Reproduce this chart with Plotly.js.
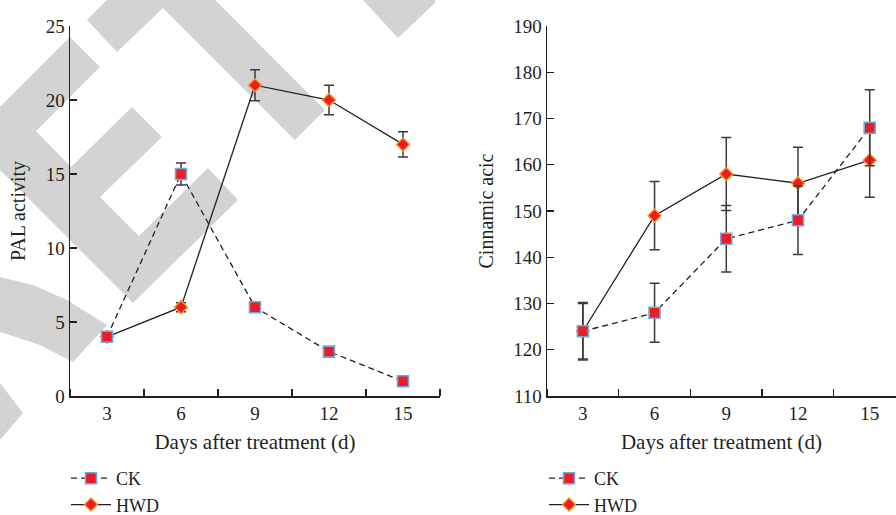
<!DOCTYPE html>
<html>
<head>
<meta charset="utf-8">
<script src="https://cdn.plot.ly/plotly-3.0.1.min.js"></script>
<style>html,body{margin:0;padding:0;background:#fff;}#chart{width:896px;height:515px;}</style>
</head>
<body>
<div id="chart"></div>
<script>
// ---- data ----
const days = [3, 6, 9, 12, 15];
const palCK = [4, 15, 6, 3, 1];
const palCKErr = [0.3, 0.75, 0.3, 0.2, 0.2];
const palHWD = [4, 6, 21, 20, 17];
const palHWDErr = [0.3, 0.3, 1.05, 1.0, 0.85];
const cinCK = [124, 128, 144, 148, 168];
const cinCKErr = [6.2, 6.4, 7.2, 7.4, 8.2];
const cinHWD = [124, 149, 158, 156, 161];
const cinHWDErr = [6.0, 7.4, 7.9, 7.8, 8.0];
const seriesNames = ['CK', 'HWD'];
const xTitle = 'Days after treatment (d)';
const yTitleLeft = 'PAL activity';
const yTitleRight = 'Cinnamic acic';

// ---- styling ----
const W = 896, H = 515;
const FONT = 'Liberation Serif, Times New Roman, serif';
const INK = '#231f20';
const RED = '#ed1c24';
const BLUE = '#6fa8dc';
const ORANGE = '#f7941d';
const ERRC = '#3a3a3a';

function ckTrace(y, err, xa, ya, lg) {
  return {x: days, y: y, xaxis: xa, yaxis: ya, name: seriesNames[0], legend: lg,
    mode: 'lines+markers', type: 'scatter',
    line: {color: INK, width: 1.3, dash: '6px,4px'},
    marker: {symbol: 'square', size: 11, color: RED, line: {color: BLUE, width: 1.6}},
    error_y: {type: 'data', array: err, visible: true, color: ERRC, thickness: 1.5, width: 5}};
}
function hwdTrace(y, err, xa, ya, lg) {
  return {x: days, y: y, xaxis: xa, yaxis: ya, name: seriesNames[1], legend: lg,
    mode: 'lines+markers', type: 'scatter',
    line: {color: INK, width: 1.3},
    marker: {symbol: 'diamond', size: 10, color: RED, line: {color: ORANGE, width: 1.4}},
    error_y: {type: 'data', array: err, visible: true, color: ERRC, thickness: 1.5, width: 5}};
}

const traces = [
  hwdTrace(palHWD, palHWDErr, 'x', 'y', 'legend'),
  ckTrace(palCK, palCKErr, 'x', 'y', 'legend'),
  hwdTrace(cinHWD, cinHWDErr, 'x2', 'y2', 'legend2'),
  ckTrace(cinCK, cinCKErr, 'x2', 'y2', 'legend2')
];
traces[0].legendrank = 2; traces[1].legendrank = 1;
traces[2].legendrank = 2; traces[3].legendrank = 1;

function xAxis(domain, range, anchor) {
  return {domain: domain, range: range, anchor: anchor, showgrid: false, zeroline: false,
    showline: true, linecolor: INK, linewidth: 1.5,
    tickmode: 'array', tickvals: days, ticktext: days.map(String), ticks: '',
    minor: {tick0: 4.5, dtick: 3, ticks: 'inside', ticklen: 7, tickwidth: 1.3, tickcolor: INK, showgrid: false},
    tickfont: {family: FONT, size: 19, color: INK},
    title: {text: xTitle, font: {family: FONT, size: 21, color: INK}, standoff: 11}};
}
function yAxis(domain, range, dtick, anchor, standoff) {
  return {domain: domain, range: range, anchor: anchor, showgrid: false, zeroline: false,
    showline: true, linecolor: INK, linewidth: 1.5,
    tick0: range[0], dtick: dtick, ticks: 'inside', ticklen: 7, tickwidth: 1.3, tickcolor: INK,
    tickfont: {family: FONT, size: 19, color: INK},
    title: {text: anchor === 'x' ? yTitleLeft : yTitleRight, font: {family: FONT, size: 20, color: INK}, standoff: standoff}};
}

const yDom = [1 - 396 / H, 1 - 26 / H];

// ---- watermark (decorative, pixel polygons) ----
const wm = [
  [[0,107],[70,37],[100,67],[36,131],[71,167],[132,107],[162,137],[100,197],[139,236],[208,168],[238,200],[133,303],[0,170]],
  [[0,277],[33,285],[67,300],[107,325],[73,362],[40,345],[0,332]],
  [[0,383],[23,413],[0,440]],
  [[87,20],[107,0],[215,0],[325,110],[295,140],[163,8],[117,52]],
  [[363,0],[435,0],[435,3],[398,38]]
];
function toPath(pts) {
  return pts.map((p, i) => (i ? 'L' : 'M') + (p[0] / W).toFixed(4) + ',' + (1 - p[1] / H).toFixed(4)).join(' ') + ' Z';
}
const shapes = wm.map(pts => ({type: 'path', xref: 'paper', yref: 'paper', path: toPath(pts),
  fillcolor: '#d3d3d3', line: {width: 0}, layer: 'below'}));

const legendBase = {orientation: 'v', font: {family: FONT, size: 18, color: INK},
  bgcolor: 'rgba(0,0,0,0)', xanchor: 'left', yanchor: 'top', tracegroupgap: 0, itemwidth: 40};

const layout = {
  width: W, height: H,
  margin: {l: 0, r: 0, t: 0, b: 0, autoexpand: false},
  paper_bgcolor: '#fff', plot_bgcolor: 'rgba(0,0,0,0)',
  showlegend: true,
  xaxis: xAxis([70 / W, 440 / W], [1.5, 16.5], 'y'),
  yaxis: yAxis(yDom, [0, 25], 5, 'x', 14),
  xaxis2: xAxis([547 / W, 1], [1.5, 16.1], 'y2'),
  yaxis2: yAxis(yDom, [110, 190], 10, 'x2', 14),
  legend: Object.assign({}, legendBase, {x: 66 / W, y: 1 - 460 / H}),
  legend2: Object.assign({}, legendBase, {x: 544 / W, y: 1 - 460 / H}),
  shapes: shapes
};

Plotly.newPlot('chart', traces, layout, {displayModeBar: false, staticPlot: true});
</script>
</body>
</html>
